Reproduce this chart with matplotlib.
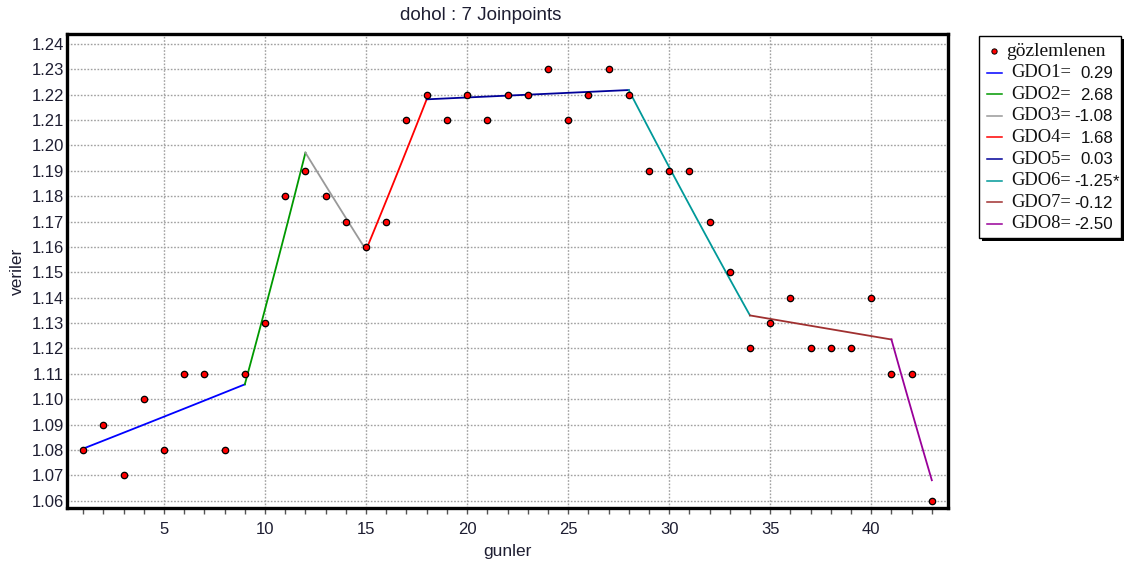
import numpy as np
import matplotlib
matplotlib.use("Agg")
import matplotlib.pyplot as plt
from matplotlib.patches import Rectangle
from matplotlib.lines import Line2D

# Observed values per day
days = list(range(1, 44))
observed = [1.08, 1.09, 1.07, 1.10, 1.08, 1.11, 1.11, 1.08, 1.11, 1.13,
            1.18, 1.19, 1.18, 1.17, 1.16, 1.17, 1.21, 1.22, 1.21, 1.22,
            1.21, 1.22, 1.22, 1.23, 1.21, 1.22, 1.23, 1.22, 1.19, 1.19,
            1.19, 1.17, 1.15, 1.12, 1.13, 1.14, 1.12, 1.12, 1.12, 1.14,
            1.11, 1.11, 1.06]

# Joinpoint model: segment boundaries, segment percent changes, start value
joinpoints = [1, 9, 12, 15, 18, 28, 34, 41, 43]
gdo_values = [0.29, 2.68, -1.08, 1.68, 0.03, -1.25, -0.12, -2.50]
gdo_labels = ["GDO1=", "GDO2=", "GDO3=", "GDO4=", "GDO5=", "GDO6=", "GDO7=", "GDO8="]
gdo_flags = ["", "", "", "", "", "*", "", ""]
start_value = 1.0805

seg_colors = ["#0000ff", "#009900", "#999999", "#ff0000",
              "#000099", "#009999", "#a03030", "#990099"]

plt.rcParams['font.family'] = ['Liberation Sans', 'DejaVu Sans']
text_color = "#1e1e32"

fig = plt.figure(figsize=(11.28, 5.68), dpi=100)
ax = fig.add_axes([67 / 1128, 1 - 508 / 568, (948 - 67) / 1128, (508 - 34) / 568])

# fitted segments (log-linear growth at the stated rate)
v0 = start_value
for i in range(len(gdo_values)):
    a, b = joinpoints[i], joinpoints[i + 1]
    xs = np.linspace(a, b, 60)
    ys = v0 * (1 + gdo_values[i] / 100.0) ** (xs - a)
    ax.plot(xs, ys, color=seg_colors[i], lw=1.3, zorder=3)
    v0 = ys[-1]

ax.plot(days, observed, ls="none", marker="o", ms=4.6, mfc="#ff0000",
        mec="black", mew=0.9, zorder=4)

ax.set_xlim(0.2, 43.8)
ax.set_ylim(1.0571, 1.2439)
ax.set_xticks(np.arange(5, 45, 5))
ax.set_xticks(np.arange(1, 44, 1), minor=True)
yt = np.round(np.arange(1.06, 1.2401, 0.01), 2)
ax.set_yticks(yt)
ax.set_yticklabels([f"{v:.2f}" for v in yt])

ax.grid(True, which="major", color="#a0a0a0", ls=(0, (1.2, 1.2)), lw=1.0)
ax.set_axisbelow(True)
for s in ax.spines.values():
    s.set_linewidth(2.4)
    s.set_color("black")

ax.tick_params(axis="x", which="both", direction="out", length=4, width=1,
               color="#555555", labelsize=12, pad=6, labelcolor=text_color)
ax.tick_params(axis="y", which="both", length=0, labelsize=12, pad=2,
               labelcolor=text_color)

ax.set_xlabel("gunler", fontsize=12.5, color=text_color, labelpad=5)
ax.set_ylabel("veriler", fontsize=12.5, color=text_color, labelpad=5)
fig.text(481 / 1128, 1 - 15 / 568, "dohol : 7 Joinpoints", ha="center",
         va="center", fontsize=13.5, color=text_color)

# legend panel in pixel coordinates
lg = fig.add_axes([0, 0, 1, 1], facecolor="none")
lg.set_xlim(0, 1128)
lg.set_ylim(568, 0)
lg.axis("off")
lg.add_patch(Rectangle((982, 39), 142, 202, facecolor="black", edgecolor="none", zorder=1))
lg.add_patch(Rectangle((979, 36), 142, 202, facecolor="white", edgecolor="black", lw=1.0, zorder=2))

row0 = 51
step = 21.6
lg.plot([994], [row0], ls="none", marker="o", ms=3.8, mfc="#ff0000", mec="black",
        mew=0.7, zorder=3)
lg.text(1006, row0, "gözlemlenen", fontsize=14, family="Liberation Serif",
        ha="left", va="center", color="#111111", zorder=3)
for i, (lab, val, flag) in enumerate(zip(gdo_labels, gdo_values, gdo_flags)):
    y = row0 + step * (i + 1)
    lg.add_line(Line2D([987, 1002], [y, y], color=seg_colors[i], lw=1.1, zorder=3))
    lg.text(1011, y, lab, fontsize=13.3, family="Liberation Serif",
            ha="left", va="center", color="#111111", zorder=3)
    lg.text(1113, y + 1, f"{val:.2f}", fontsize=12.2, family="Liberation Sans",
            ha="right", va="center", color="#111111", zorder=3)
    if flag:
        lg.text(1113, y + 1, flag, fontsize=12.2, family="Liberation Sans",
                ha="left", va="center", color="#111111", zorder=3)

fig.savefig("out.png", dpi=100)
